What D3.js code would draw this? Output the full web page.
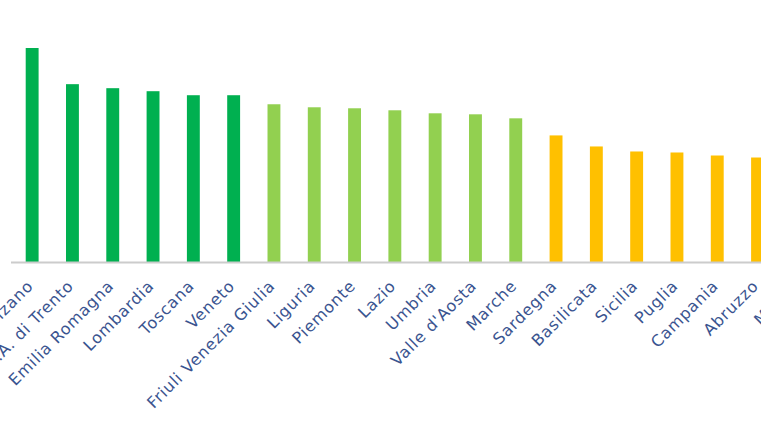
<!DOCTYPE html>
<html lang="it">
<head>
  <meta charset="UTF-8">
  <title>Regioni</title>
  <script src="https://d3js.org/d3.v7.min.js"></script>
  <style>
    body { margin: 0; background: #fff; }
    .label { font-family: "DejaVu Sans", sans-serif; font-size: 16px; letter-spacing: 0.8px; fill: #3a5490; }
  </style>
</head>
<body>
<svg width="761" height="428"></svg>
<script>
  // Regioni (la prima e l'ultima sono tagliate nell'originale)
  const regions = ["P.A. di Bolzano", "P.A. di Trento", "Emilia Romagna", "Lombardia", "Toscana", "Veneto",
    "Friuli Venezia Giulia", "Liguria", "Piemonte", "Lazio", "Umbria", "Valle d'Aosta", "Marche",
    "Sardegna", "Basilicata", "Sicilia", "Puglia", "Campania", "Abruzzo", "Molise"];

  // Valori stimati dall'altezza delle barre (nessun asse visibile)
  const values = [213, 177, 173, 170, 166, 166, 157, 154, 153, 151, 148, 147, 143,
    126, 115, 110, 109, 106, 104, 100];

  // Fascia di colore per ogni regione
  const groups = ["alta", "alta", "alta", "alta", "alta", "alta",
    "media", "media", "media", "media", "media", "media", "media",
    "bassa", "bassa", "bassa", "bassa", "bassa", "bassa", "bassa"];

  const color = d3.scaleOrdinal()
    .domain(["alta", "media", "bassa"])
    .range(["#00b050", "#92d050", "#ffc000"]);

  const margin = {left: 12, baseline: 262, top: 48};
  const svg = d3.select("svg");

  const x = d3.scaleBand()
    .domain(regions)
    .range([12, 12 + 40.3 * regions.length])
    .paddingInner(0.68)
    .paddingOuter(0.34);

  const y = d3.scaleLinear()
    .domain([0, 213])
    .range([margin.baseline, margin.top]);

  svg.selectAll(".bar")
    .data(regions)
    .enter().append("rect")
    .attr("class", "bar")
    .attr("x", d => x(d))
    .attr("width", x.bandwidth())
    .attr("y", (d, i) => y(values[i]))
    .attr("height", (d, i) => y(0) - y(values[i]))
    .attr("fill", (d, i) => color(groups[i]));

  // Linea dell'asse
  svg.append("line")
    .attr("x1", 11)
    .attr("x2", 761)
    .attr("y1", margin.baseline + 0.5)
    .attr("y2", margin.baseline + 0.5)
    .attr("stroke", "#cccccc")
    .attr("stroke-width", 2);

  // Etichette ruotate
  svg.selectAll(".label")
    .data(regions)
    .enter().append("text")
    .attr("class", "label")
    .attr("text-anchor", "end")
    .attr("transform", d => `translate(${x(d) + x.bandwidth() / 2 + 2},${margin.baseline + 25}) rotate(-45)`)
    .text(d => d);
</script>
</body>
</html>
